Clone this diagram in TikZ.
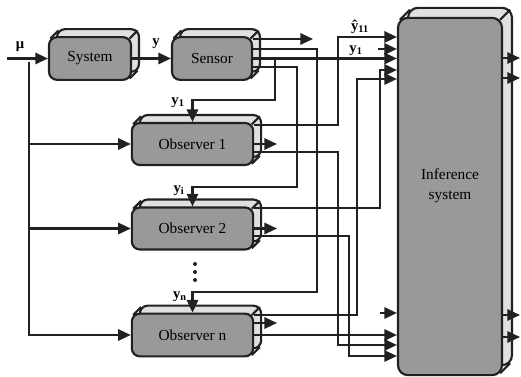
\documentclass[tikz,border=0pt]{standalone}
\usepackage{fontspec}
\setmainfont{Liberation Serif}
\usepackage{tikz}
\usetikzlibrary{arrows.meta,calc,positioning}
\definecolor{front}{gray}{0.6}
\definecolor{side}{gray}{0.88}
\definecolor{edge}{gray}{0.13}

\begin{document}
\begin{tikzpicture}[x=0.75pt,y=-0.75pt,
    diag/.style={draw=edge, line width=1.6pt},
    box3d/.style={draw=edge, line width=1.6pt, fill=front, rounded corners=#1,
      inner sep=0pt, font=\fontsize{11.5}{15}\selectfont, align=center,
      preaction={draw=edge, fill=side, transform canvas={xshift=#1,yshift=#1}},
      append after command={
        ([shift={(0.3*#1,-0.3*#1)}]\tikzlastnode.north west) edge[diag] ([shift={(1.3*#1,0.7*#1)}]\tikzlastnode.north west)
        ([shift={(-0.3*#1,-0.3*#1)}]\tikzlastnode.north east) edge[diag] ([shift={(0.7*#1,0.7*#1)}]\tikzlastnode.north east)
        ([shift={(-0.3*#1,0.3*#1)}]\tikzlastnode.south east) edge[diag] ([shift={(0.7*#1,1.3*#1)}]\tikzlastnode.south east)}},
    wire/.style={draw=edge, line width=1.6pt},
    sig/.style={wire, -{Triangle[length=9.5pt,width=8.5pt]}},
    lbl/.style={font=\bfseries\fontsize{11}{13}\selectfont, inner sep=0pt}]
    \useasboundingbox (0,0) rectangle (521,377);

    % blocks
    \node[box3d=6pt, minimum width=61.5pt, minimum height=32pt] (sys) at (90,58.5) {System};
    \node[box3d=6pt, minimum width=60pt, minimum height=32pt] (sen) at (212,58.5) {Sensor};
    \node[box3d=6pt, minimum width=91pt, minimum height=31.5pt] (obs1) at (192.5,144) {Observer 1};
    \node[box3d=6pt, minimum width=91pt, minimum height=31.5pt] (obs2) at (192.5,228.5) {Observer 2};
    \node[box3d=6pt, minimum width=91pt, minimum height=32pt] (obsn) at (192.5,335) {Observer n};
    \node[box3d=7.5pt, minimum width=78pt, minimum height=268pt] (infer) at (450,196.5) {};
    \node[font=\fontsize{11.5}{15}\selectfont, align=center] (inflbl) at (450,186) {Inference\\system};

    % input mu
    \coordinate (mu) at (7,58.5);
    \coordinate (tap) at (29,62);
    \draw[sig] (mu) -- (sys.west);
    \draw[sig] (tap) |- (obs1.west);
    \draw[sig] (tap) |- (obs2.west);
    \draw[sig] (tap) |- (obsn.west);
    \draw[sig] (sys.east) -- (sen.west);

    % sensor outputs
    \coordinate (s0) at (313,39);
    \draw[sig] (sen.east |- s0) -- (s0);
    \draw[sig] (sen.east |- 0,49) -| (317,292) -| (obsn.north);
    \draw[sig] (sen.east) -- (sen.east -| infer.west);
    \draw[sig] (275,58.5) -- (275,100) -| (obs1.north);
    \draw[sig] (sen.east |- 0,67) -| (297,187) -| (obs2.north);

    % observer outputs
    \coordinate (o1) at (277,144);
    \coordinate (o2) at (277,228.5);
    \coordinate (o3) at (277,323);
    \draw[sig] (obs1.east |- 0,125) -| (338,37) -- (infer.west |- 0,37);
    \draw[sig] (obs1.east) -- (o1);
    \draw[sig] (obs1.east |- 0,152) -| (338,345) -- (infer.west |- 0,345);
    \draw[sig] (obs2.east |- 0,208) -| (380,70) -- (infer.west |- 0,70);
    \draw[sig] (obs2.east) -- (o2);
    \draw[sig] (obs2.east |- 0,236) -| (349,356) -- (infer.west |- 0,356);
    \draw[sig] (obsn.east |- 0,315) -| (357,79) -- (infer.west |- 0,79);
    \draw[sig] (obsn.east |- o3) -- (o3);
    \draw[sig] (obsn.east) -- (obsn.east -| infer.west);

    % free inputs and outputs of the inference system
    \coordinate (st1) at (378,49);
    \coordinate (st2) at (380,313);
    \draw[sig] (st1) -- (st1 -| infer.west);
    \draw[sig] (st2) -- (st2 -| infer.west);
    \foreach \yy [count=\k] in {58,78,315,337} {
        \coordinate (out\k) at (520,\yy);
        \draw[sig] (infer.east |- out\k) -- (out\k);
    }

    % labels
    \node[lbl] (mul) at (20,47) {μ};
    \node[lbl] (yl) at (156,44) {y};
    \node[lbl] (y1l) at (178,103) {y\textsubscript{1}};
    \node[lbl] (yil) at (179,191) {y\textsubscript{i}};
    \node[lbl] (ynl) at (180,297) {y\textsubscript{n}};
    \node[lbl] (yhl) at (360,27) {ŷ\textsubscript{11}};
    \node[lbl] (y1r) at (356,51) {y\textsubscript{1}};
    \foreach \dy in {264,272,280}
        \fill[edge] (195,\dy) circle (1.5pt);
\end{tikzpicture}
\end{document}
